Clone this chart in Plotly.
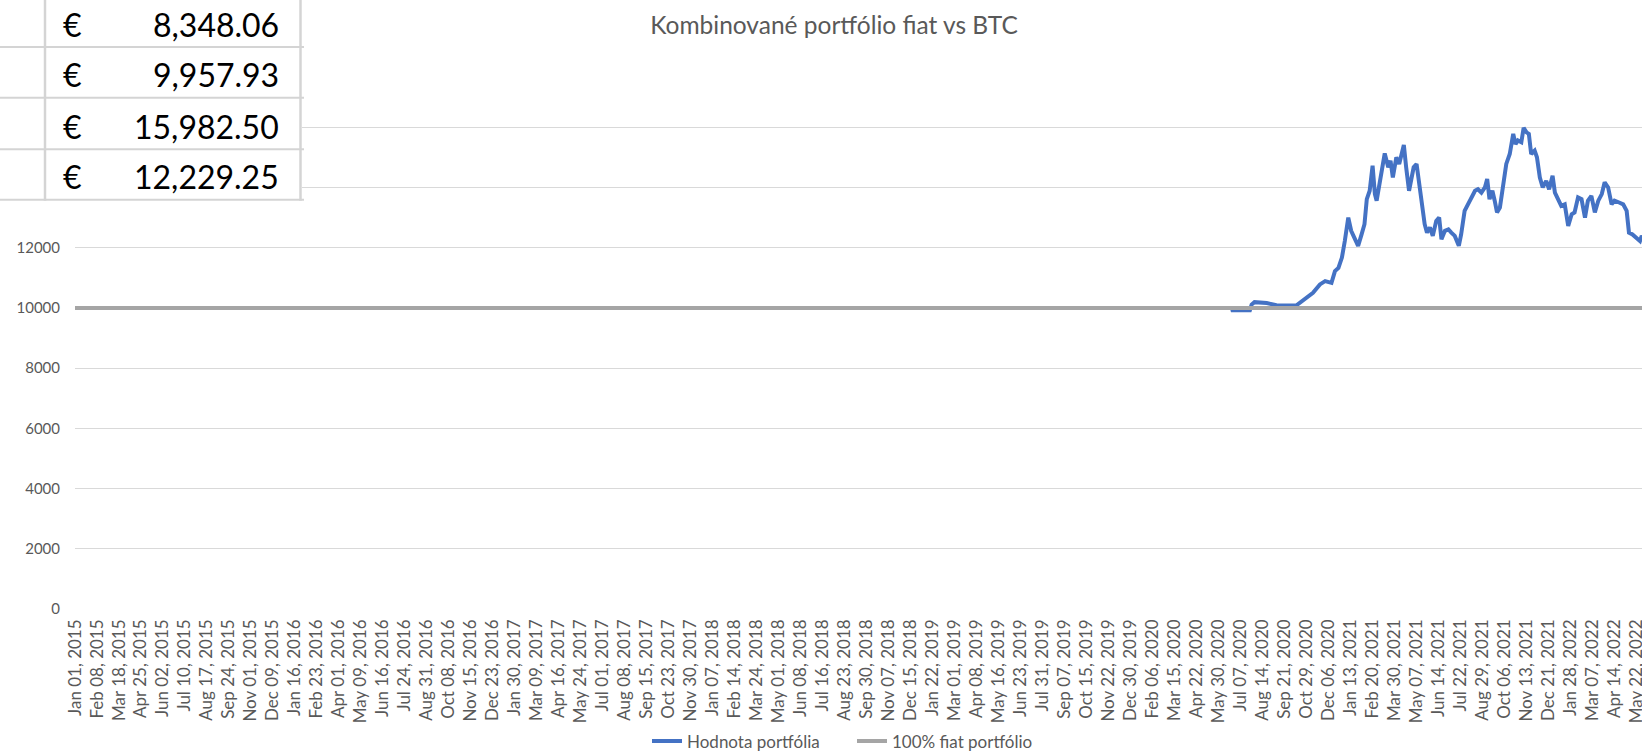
import plotly.graph_objects as go
import pandas as pd

# ---------------- data ----------------
title_text = "Kombinované portfólio fiat vs BTC"
series_names = ["Hodnota portfólia", "100% fiat portfólio"]

portfolio_dates = [
    "2015-01-01", "2020-06-22", "2020-06-23", "2020-07-23", "2020-07-26", "2020-07-31",
    "2020-08-21", "2020-09-07", "2020-10-11", "2020-10-17", "2020-10-29", "2020-11-09",
    "2020-11-21", "2020-11-30", "2020-12-11", "2020-12-17", "2020-12-23", "2020-12-29",
    "2021-01-03", "2021-01-09", "2021-01-14", "2021-01-20", "2021-01-26",
    "2021-02-01", "2021-02-06", "2021-02-10", "2021-02-15", "2021-02-20", "2021-02-24", "2021-02-27",
    "2021-03-04", "2021-03-09", "2021-03-13", "2021-03-19", "2021-03-23", "2021-03-27",
    "2021-04-02", "2021-04-07", "2021-04-11", "2021-04-15", "2021-04-19", "2021-04-24", "2021-04-28",
    "2021-05-02", "2021-05-07", "2021-05-12", "2021-05-17", "2021-05-21", "2021-05-25", "2021-05-30",
    "2021-06-04", "2021-06-10", "2021-06-15", "2021-06-19", "2021-06-25",
    "2021-07-01", "2021-07-06", "2021-07-12", "2021-07-19", "2021-07-23", "2021-07-29",
    "2021-08-04", "2021-08-10", "2021-08-16", "2021-08-21", "2021-08-27",
    "2021-09-02", "2021-09-06", "2021-09-10", "2021-09-15", "2021-09-19", "2021-09-23", "2021-09-28",
    "2021-10-03", "2021-10-09", "2021-10-15", "2021-10-21", "2021-10-25", "2021-10-29",
    "2021-11-04", "2021-11-08", "2021-11-13", "2021-11-17", "2021-11-21", "2021-11-27",
    "2021-12-01", "2021-12-06", "2021-12-11", "2021-12-17", "2021-12-22", "2021-12-28",
    "2022-01-01", "2022-01-07", "2022-01-12", "2022-01-18", "2022-01-24", "2022-01-30",
    "2022-02-04", "2022-02-10", "2022-02-16", "2022-02-22", "2022-02-27",
    "2022-03-05", "2022-03-11", "2022-03-17", "2022-03-23", "2022-03-28",
    "2022-04-03", "2022-04-09", "2022-04-14", "2022-04-22", "2022-04-29",
    "2022-05-05", "2022-05-09", "2022-05-15", "2022-05-22", "2022-05-28", "2022-05-31",
    "2022-06-05",
]
portfolio_values = [
    10000, 10000, 9925, 9925, 10110, 10190,
    10160, 10090, 10080, 10160, 10330, 10500,
    10780, 10890, 10830, 11220, 11330, 11670,
    12220, 13000, 12560, 12330, 12060,
    12440, 12780, 13610, 13890, 14720, 13780, 13560,
    14110, 14670, 15130, 14670, 14890, 14330,
    15000, 14780, 15060, 15410, 14670, 13890, 14280,
    14670, 14780, 14000, 13330, 12780, 12500, 12670,
    12390, 12890, 13000, 12280, 12560,
    12610, 12500, 12390, 12060, 12440, 13220,
    13440, 13670, 13890, 13940, 13830,
    14000, 14280, 13610, 13890, 13560, 13170, 13330,
    14110, 14780, 15110, 15780, 15440, 15560,
    15500, 15982.5, 15830, 15780, 15110, 15220,
    15000, 14330, 14000, 14220, 13940, 14390,
    13830, 13560, 13390, 13440, 12720, 13110,
    13170, 13670, 13610, 13000, 13560,
    13720, 13170, 13560, 13780, 14170,
    14000, 13440, 13560, 13500, 13440,
    13220, 12500, 12440, 12330, 12220, 12390,
    12229.25,
]
fiat_dates = ["2015-01-01", "2022-06-05"]
fiat_values = [10000, 10000]

table_values = ["8,348.06", "9,957.93", "15,982.50", "12,229.25"]
table_currency = "€"

y_tick_values = [0, 2000, 4000, 6000, 8000, 10000, 12000, 14000, 16000, 18000]
y_tick_labels = ["0", "2000", "4000", "6000", "8000", "10000", "12000", "", "", ""]

x_tick_dates = pd.date_range("2015-01-01", "2022-06-30", freq="38D")
x_tick_labels = [d.strftime("%b %d, %Y") for d in x_tick_dates]
x_view = ["2015-01-01", "2022-05-31 12:00"]

# ---------------- layout geometry ----------------
W, H = 1642, 754
ML, MR, MT, MB = 75, 0, 66.6, 144.7
PW, PH = W - ML - MR, H - MT - MB


def px_x(x):
    return (x - ML) / PW


def px_y(y):
    return (H - MB - y) / PH


FONT = "Lato, Calibri, Carlito, sans-serif"
BLUE = "#4472C4"
GRAY = "#A5A5A5"
TXT = "#595959"
GRID = "#D9D9D9"

fig = go.Figure()
fig.add_trace(go.Scatter(x=portfolio_dates, y=portfolio_values, mode="lines",
                         name=series_names[0], line=dict(color=BLUE, width=4)))
fig.add_trace(go.Scatter(x=fiat_dates, y=fiat_values, mode="lines",
                         name=series_names[1], line=dict(color=GRAY, width=4)))

shapes = []
# table overlay (white background + cell borders)
shapes.append(dict(type="rect", xref="paper", yref="paper", layer="above",
                   x0=px_x(-2), x1=px_x(302), y0=px_y(-2), y1=px_y(200.5),
                   fillcolor="white", line=dict(width=0)))
for yy in [46.5, 97.5, 149, 199.5]:
    shapes.append(dict(type="line", xref="paper", yref="paper", layer="above",
                       x0=px_x(0), x1=px_x(304), y0=px_y(yy), y1=px_y(yy),
                       line=dict(color="#D4D4D4", width=2)))
for xx in [45, 300.5]:
    shapes.append(dict(type="line", xref="paper", yref="paper", layer="above",
                       x0=px_x(xx), x1=px_x(xx), y0=px_y(-2), y1=px_y(200.5),
                       line=dict(color="#D4D4D4", width=2.5)))

annotations = []
row_centers = [24, 74, 126, 176]
for val, yc in zip(table_values, row_centers):
    annotations.append(dict(xref="paper", yref="paper", x=px_x(61), y=px_y(yc),
                            xanchor="left", yanchor="middle", showarrow=False,
                            text=table_currency, font=dict(family=FONT, size=32, color="#000000")))
    annotations.append(dict(xref="paper", yref="paper", x=px_x(281), y=px_y(yc),
                            xanchor="right", yanchor="middle", showarrow=False,
                            text=val, font=dict(family=FONT, size=32, color="#000000")))

fig.update_layout(
    width=W, height=H,
    margin=dict(l=ML, r=MR, t=MT, b=MB, pad=0, autoexpand=False),
    paper_bgcolor="white", plot_bgcolor="white",
    font=dict(family=FONT, color=TXT, size=15),
    title=dict(text=title_text, xref="container", yref="container",
               x=834 / W, y=1 - 25 / H, xanchor="center", yanchor="middle",
               font=dict(family=FONT, size=24.5, color=TXT)),
    showlegend=True,
    legend=dict(orientation="h", xref="paper", yref="paper",
                x=px_x(647), y=px_y(742), xanchor="left", yanchor="middle",
                font=dict(family=FONT, size=17, color=TXT),
                entrywidth=160, bgcolor="rgba(0,0,0,0)"),
    xaxis=dict(type="date", range=x_view, tickmode="array",
               tickvals=list(x_tick_dates), ticktext=x_tick_labels,
               tickangle=-90, tickfont=dict(family=FONT, size=17, color=TXT),
               showgrid=False, zeroline=False, showline=False, ticks="",
               ticklabelstandoff=6, ticklabeloverflow="allow", automargin=False),
    yaxis=dict(range=[0, 18000], tickmode="array", tickvals=y_tick_values,
               ticktext=y_tick_labels, tickfont=dict(family=FONT, size=15, color=TXT),
               showgrid=True, gridcolor=GRID, gridwidth=1, zeroline=False,
               showline=False, ticks="", ticklabelstandoff=14, automargin=False),
    shapes=shapes,
    annotations=annotations,
)

fig.write_html("out.html", config={"displayModeBar": False},
               post_script="document.body.style.margin='0';document.body.style.overflow='hidden';")
